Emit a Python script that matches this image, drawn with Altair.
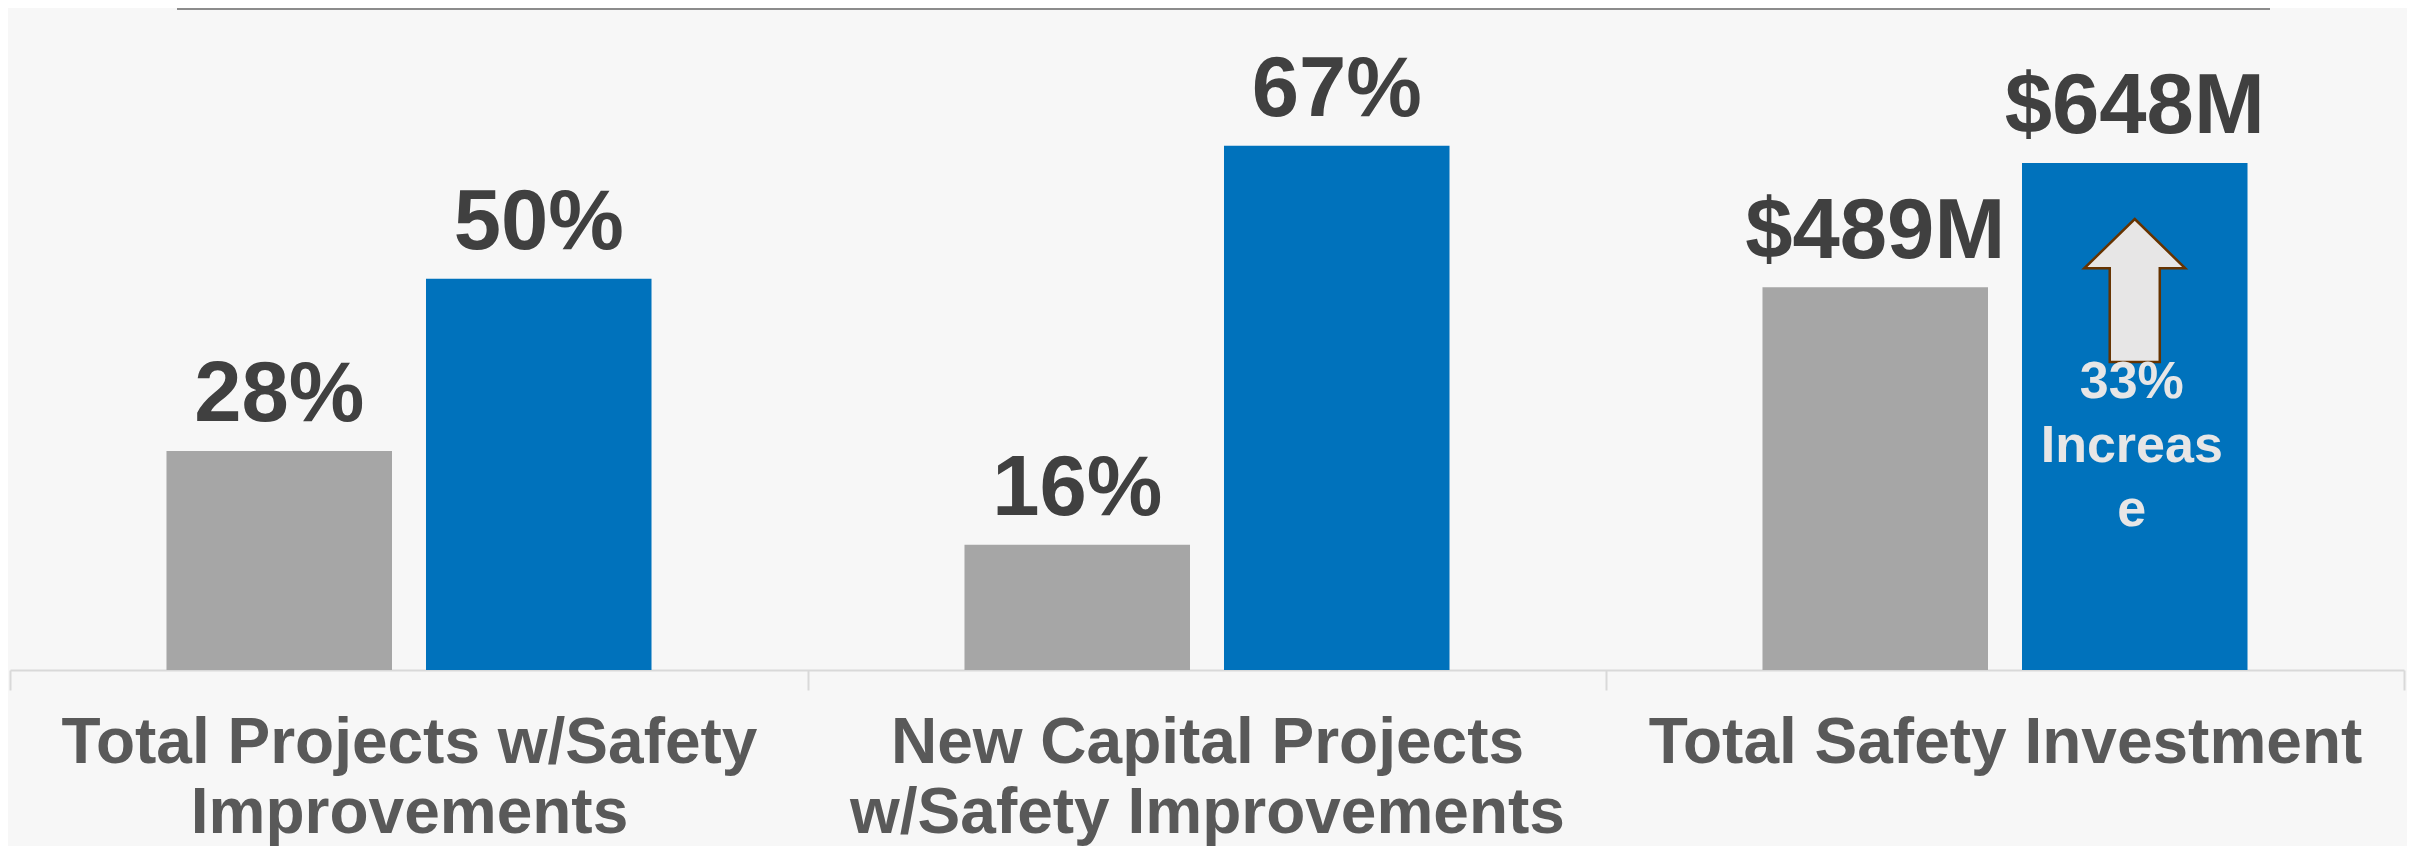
import altair as alt
import pandas as pd

# ---- data ----
categories = [
    "Total Projects w/Safety|Improvements",
    "New Capital Projects|w/Safety Improvements",
    "Total Safety Investment",
]
series = ["Before", "After"]
before_values = [28, 16, 489]
after_values = [50, 67, 648]
before_labels = ["28%", "16%", "$489M"]
after_labels = ["50%", "67%", "$648M"]
# one axis unit = 1 % for the first two groups, $10M for the investment group
units_per_axis_step = [1, 1, 10]
colors = ["#a6a6a6", "#0072bc"]
annotation_lines = ["33%", "Increas", "e"]

rows = []
for cat, bv, av, bl, al, u in zip(categories, before_values, after_values,
                                  before_labels, after_labels, units_per_axis_step):
    rows.append({"category": cat, "series": "Before", "value": bv, "height": bv / u, "label": bl})
    rows.append({"category": cat, "series": "After", "value": av, "height": av / u, "label": al})
df = pd.DataFrame(rows)

FONT = "Liberation Sans"

x_enc = alt.X(
    "category:N",
    sort=categories,
    scale=alt.Scale(paddingInner=0, paddingOuter=0),
    axis=alt.Axis(
        title=None,
        labelExpr="split(datum.label, '|')",
        labelFont=FONT,
        labelFontSize=64,
        labelFontWeight="bold",
        labelColor="#595959",
        labelLineHeight=70,
        labelBaseline="top",
        labelPadding=21,
        labelAngle=0,
        labelOverlap=False,
        labelBound=False,
        labelFlush=False,
        labelLimit=0,
        tickBand="extent",
        tickSize=20,
        tickColor="#d9d9d9",
        tickWidth=2,
        domainColor="#d9d9d9",
        domainWidth=2,
        grid=False,
    ),
)
xoff_enc = alt.XOffset(
    "series:N", sort=series, scale=alt.Scale(paddingInner=0.131, paddingOuter=0.603)
)
y_enc = alt.Y("height:Q", scale=alt.Scale(domain=[0, 80]), axis=None)

base = alt.Chart(df).encode(x=x_enc, xOffset=xoff_enc, y=y_enc)

bars = base.mark_bar().encode(
    color=alt.Color("series:N", scale=alt.Scale(domain=series, range=colors), legend=None)
)

value_text = base.mark_text(
    baseline="alphabetic",
    dy=-29.5,
    font=FONT,
    fontSize=85,
    fontWeight="bold",
    color="#404040",
).encode(text="label:N")

ann_df = pd.DataFrame({"category": [categories[2]], "series": ["After"]})
ann_base = alt.Chart(ann_df).encode(
    x=alt.X("category:N", sort=categories),
    xOffset=alt.XOffset("series:N", sort=series),
)

arrow_path = "M0,-1 L0.706,-0.31 L0.35,-0.31 L0.35,1 L-0.35,1 L-0.35,-0.31 L-0.706,-0.31 Z"
arrow = ann_base.mark_point(
    shape=arrow_path,
    size=20449,
    filled=True,
    fill="#e7e6e6",
    stroke="#663300",
    strokeWidth=2.5,
    opacity=1,
    fillOpacity=1,
).encode(y=alt.datum(48.5))

ann_text = ann_base.mark_text(
    text=annotation_lines,
    baseline="alphabetic",
    align="center",
    lineHeight=64,
    font=FONT,
    fontSize=52,
    fontWeight="bold",
    color="#e7e6e6",
    dx=-3,
).encode(y=alt.datum(34.7))

top_line = alt.Chart(pd.DataFrame({"a": [0]})).mark_rule(
    color="#8c8c8c", strokeWidth=2
).encode(x=alt.value(167), x2=alt.value(2260), y=alt.value(-35))

chart = (
    alt.layer(bars, value_text, arrow, ann_text, top_line)
    .properties(
        width=2394,
        height=626,
        padding={"left": 2, "top": 36, "right": 3, "bottom": 176},
        autosize=alt.AutoSizeParams(type="none"),
        background="#f7f7f7",
    )
    .configure_view(stroke=None)
)

chart.save("out.html", embed_options={"renderer": "svg", "actions": False})
